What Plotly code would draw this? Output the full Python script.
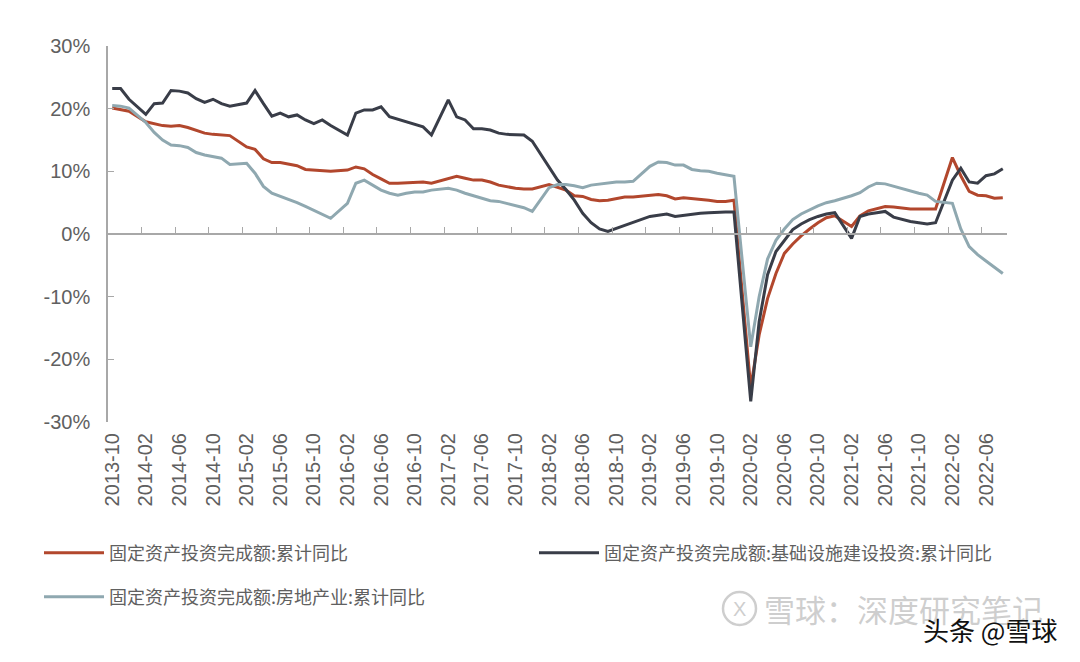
import plotly.graph_objects as go
import pandas as pd

# ---- categories (monthly, 2013-10 .. 2022-08) ----
months = [p.strftime('%Y-%m') for p in pd.period_range('2013-10', '2022-08', freq='M')]
tick_labels = months[::4]
y_ticks = [-30, -20, -10, 0, 10, 20, 30]
y_tick_text = ['-30%', '-20%', '-10%', '0%', '10%', '20%', '30%']

# ---- series (cumulative YoY, %), January not published -> None ----
fai_total = [
    20.1, 19.9, 19.6,
    None, 17.9, 17.6, 17.3, 17.2, 17.3, 17.0, 16.5, 16.1, 15.9, 15.8, 15.7,
    None, 13.9, 13.5, 12.0, 11.4, 11.4, 11.2, 10.9, 10.3, 10.2, 10.2, 10.0,
    None, 10.2, 10.7, 10.4, 9.5, 8.8, 8.1, 8.1, 8.2, 8.3, 8.3, 8.1,
    None, 8.9, 9.2, 8.9, 8.6, 8.6, 8.3, 7.8, 7.5, 7.3, 7.2, 7.2,
    None, 7.9, 7.5, 7.0, 6.1, 6.0, 5.5, 5.3, 5.4, 5.7, 5.9, 5.9,
    None, 6.1, 6.3, 6.1, 5.6, 5.8, 5.7, 5.5, 5.4, 5.2, 5.2, 5.4,
    None, -24.5, -16.1, -10.3, -6.3, -3.1, -1.6, -0.3, 0.8, 1.8, 2.6, 2.9,
    None, 1.2, 2.9, 3.7, 4.1, 4.4, 4.3, 4.1, 4.0, 4.0, 4.0, 4.0,
    None, 12.2, 9.3, 6.8, 6.2, 6.1, 5.7, 5.8,
]
fai_infra = [
    23.2, 23.2, 21.5,
    None, 19.1, 20.8, 20.9, 22.9, 22.8, 22.5, 21.6, 21.0, 21.5, 20.8, 20.4,
    None, 20.9, 22.9, 20.8, 18.8, 19.3, 18.7, 19.0, 18.2, 17.6, 18.2, 17.3,
    None, 15.8, 19.3, 19.8, 19.8, 20.3, 18.7, 18.3, 17.9, 17.6, 17.1, 15.8,
    None, 21.4, 18.7, 18.2, 16.8, 16.8, 16.6, 16.1, 15.9, 15.9, 15.8, 14.8,
    None, 10.7, 8.6, 7.1, 5.4, 3.3, 1.8, 0.8, 0.4, 0.9, 1.4, 1.9,
    None, 2.8, 3.0, 3.2, 2.8, 3.0, 3.1, 3.3, 3.4, 3.5, 3.5, 3.5,
    None, -26.7, -14.0, -6.5, -2.8, -1.0, 0.7, 1.6, 2.3, 2.8, 3.2, 3.4,
    None, -0.7, 2.8, 3.2, 3.4, 3.6, 2.7, 2.3, 2.0, 1.8, 1.6, 1.8,
    None, 8.6, 10.5, 8.3, 8.1, 9.3, 9.6, 10.4,
]
fai_realestate = [
    20.5, 20.4, 20.1,
    None, 17.8, 16.2, 15.0, 14.2, 14.1, 13.8, 13.0, 12.6, 12.3, 12.1, 11.1,
    None, 11.3, 9.7, 7.6, 6.5, 6.0, 5.6, 5.0, 4.4, 3.8, 3.1, 2.5,
    None, 4.9, 8.1, 8.6, 7.8, 7.0, 6.5, 6.2, 6.5, 6.7, 6.7, 7.0,
    None, 7.3, 7.0, 6.5, 6.1, 5.7, 5.3, 5.2, 4.9, 4.6, 4.2, 3.6,
    None, 7.4, 7.9, 7.9, 7.7, 7.4, 7.8, 8.0, 8.2, 8.3, 8.3, 8.4,
    None, 10.8, 11.5, 11.4, 11.0, 11.0, 10.3, 10.1, 10.0, 9.7, 9.5, 9.2,
    None, -18.0, -10.0, -4.0, -1.0, 0.8, 2.3, 3.2, 3.9, 4.5, 5.0, 5.3,
    None, 6.1, 6.6, 7.5, 8.1, 8.0, 7.6, 7.3, 6.9, 6.5, 6.2, 5.2,
    None, 4.9, 0.8, -2.0, -3.3, -4.3, -5.3, -6.3,
]

names = [
    '固定资产投资完成额:累计同比',
    '固定资产投资完成额:基础设施建设投资:累计同比',
    '固定资产投资完成额:房地产业:累计同比',
]
colors = ['#B2472D', '#393D48', '#8FA8B0']

# page has an 8px body margin; work in page pixels, convert to figure
OFF = 8
W, H = 1080 - OFF, 662 - OFF
L, T = 108 - OFF, 46 - OFF
pw, ph = 899, 376
R, B = W - L - pw, H - T - ph
def px(x):
    return (x - OFF - L) / pw
def py(y):
    return (T + ph - (y - OFF)) / ph

axis_col = '#A8A8A8'
txt_col = '#606060'
leg_font = dict(family='Noto Sans CJK SC', size=18, color=txt_col)

fig = go.Figure()
fig.add_trace(go.Scatter(x=months, y=fai_total, name=names[0], mode='lines',
                         line=dict(color=colors[0], width=3), connectgaps=True,
                         legend='legend'))
fig.add_trace(go.Scatter(x=months, y=fai_infra, name=names[1], mode='lines',
                         line=dict(color=colors[1], width=3), connectgaps=True,
                         legend='legend3'))
fig.add_trace(go.Scatter(x=months, y=fai_realestate, name=names[2], mode='lines',
                         line=dict(color=colors[2], width=3), connectgaps=True,
                         legend='legend2', xaxis='x2'))

tick_between = [i - 0.5 for i in range(4, len(months) - 2, 4)]

def leg(x, y):
    return dict(orientation='h', x=px(x), y=py(y), xanchor='left', yanchor='middle',
                itemwidth=60, bgcolor='rgba(0,0,0,0)', font=leg_font)

fig.update_layout(
    width=W, height=H,
    margin=dict(l=L, r=R, t=T, b=B),
    paper_bgcolor='white', plot_bgcolor='white',
    font=dict(family='Liberation Sans, Arial, sans-serif', color=txt_col),
    xaxis=dict(type='category', categoryorder='array', categoryarray=months,
               range=[-0.5, len(months) - 0.5],
               tickmode='array', tickvals=tick_labels, ticktext=tick_labels,
               tickangle=-90, showline=False, ticks='', showgrid=False, zeroline=False,
               tickfont=dict(size=20, color=txt_col), ticklabelstandoff=6),
    xaxis2=dict(type='category', categoryorder='array', categoryarray=months,
                overlaying='x', matches='x', anchor='free', position=0.5,
                showline=True, linecolor=axis_col, linewidth=1.6,
                ticks='inside', ticklen=6, tickwidth=1.3, tickcolor=axis_col,
                tickmode='array', tickvals=tick_between,
                showticklabels=False, showgrid=False, zeroline=False),
    yaxis=dict(range=[-30, 30], tickmode='array', tickvals=y_ticks, ticktext=y_tick_text,
               showline=True, linecolor=axis_col, linewidth=1.6,
               ticks='inside', ticklen=6, tickwidth=1.3, tickcolor=axis_col,
               showgrid=False, zeroline=False,
               tickfont=dict(size=20, color=txt_col), ticklabelstandoff=12),
    legend=leg(39, 553),
    legend3=leg(534, 553),
    legend2=leg(39, 597),
    showlegend=True,
)

# watermark & credit
wm = 'rgba(190,190,190,0.75)'
fig.add_annotation(xref='paper', yref='paper', x=px(903), y=py(608), xanchor='center',
                   yanchor='middle', text='雪球：深度研究笔记', showarrow=False,
                   font=dict(family='Noto Sans CJK SC', size=31, color=wm))
fig.add_shape(type='circle', xref='paper', yref='paper',
              x0=px(723), x1=px(756), y0=py(625), y1=py(592),
              line=dict(color=wm, width=2.5))
fig.add_annotation(xref='paper', yref='paper', x=px(739.5), y=py(608.5), xanchor='center',
                   yanchor='middle', text='X', showarrow=False,
                   font=dict(family='Liberation Sans', size=20, color=wm))
fig.add_annotation(xref='paper', yref='paper', x=px(990), y=py(629), xanchor='center',
                   yanchor='middle', text='头条 @雪球', showarrow=False,
                   font=dict(family='Noto Sans CJK SC', size=26, color='#111111'))

fig.write_html('out.html')
